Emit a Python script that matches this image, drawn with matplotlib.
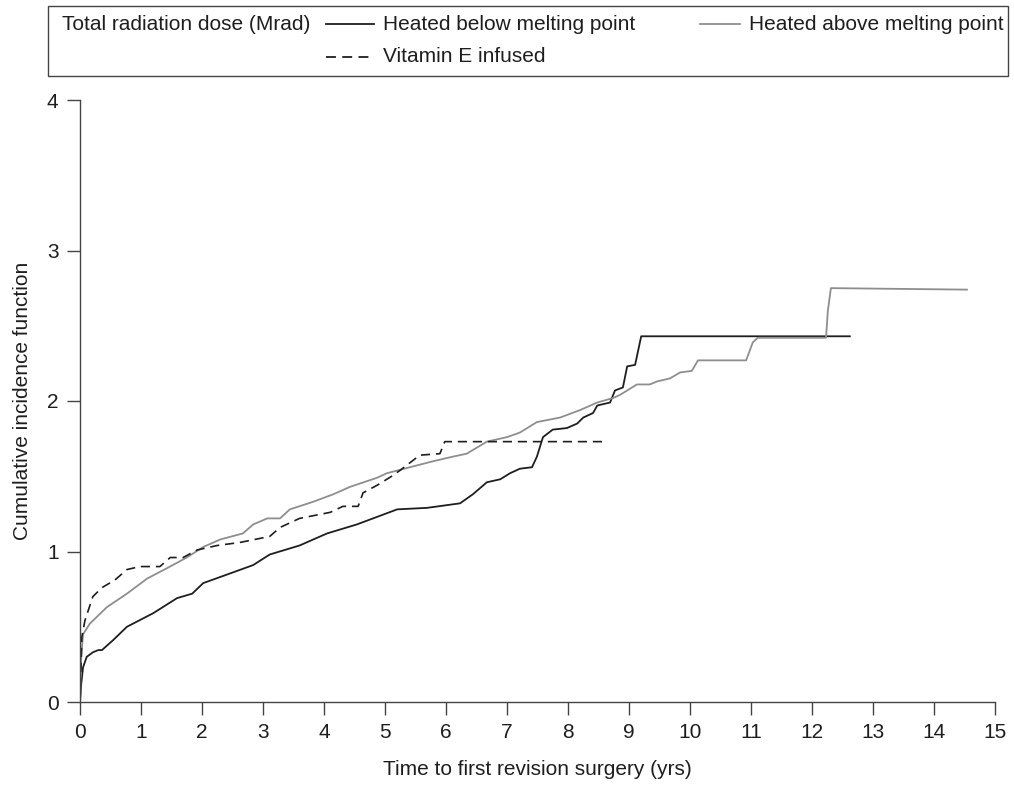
import matplotlib
matplotlib.use("Agg")
import matplotlib.pyplot as plt
from matplotlib.lines import Line2D
from matplotlib.patches import Rectangle

plt.rcParams['font.family'] = ['Liberation Sans', 'DejaVu Sans']

# cumulative incidence curves, read per group
below_x = [0, 0.02, 0.05, 0.11, 0.21, 0.3, 0.36, 0.54, 0.77, 1.2, 1.59, 1.84, 2.02, 2.5, 2.84,
           3.11, 3.6, 4.05, 4.54, 5.2, 5.69, 6.23, 6.44, 6.67, 6.89, 7.05, 7.21, 7.41, 7.49,
           7.59, 7.75, 7.98, 8.15, 8.25, 8.41, 8.48, 8.69, 8.77, 8.9, 8.97, 9.1, 9.2, 12.62]
below_y = [0, 0.12, 0.23, 0.30, 0.33, 0.345, 0.345, 0.41, 0.5, 0.59, 0.69, 0.72, 0.79, 0.86, 0.91,
           0.98, 1.04, 1.12, 1.18, 1.28, 1.29, 1.32, 1.38, 1.46, 1.48, 1.52, 1.55, 1.56, 1.63,
           1.76, 1.81, 1.82, 1.85, 1.89, 1.92, 1.97, 1.99, 2.07, 2.09, 2.23, 2.24, 2.43, 2.43]

above_x = [0, 0.02, 0.05, 0.16, 0.44, 0.77, 1.1, 1.43, 1.75, 2.02, 2.3, 2.67, 2.84, 3.07, 3.28,
           3.44, 3.82, 4.15, 4.43, 4.87, 5.03, 5.41, 5.79, 6.11, 6.34, 6.67, 7.0, 7.21, 7.49,
           7.87, 8.2, 8.48, 8.74, 8.85, 9.13, 9.34, 9.46, 9.67, 9.84, 10.03, 10.13, 10.92,
           11.03, 11.11, 12.23, 12.26, 12.31, 14.54]
above_y = [0, 0.3, 0.45, 0.52, 0.63, 0.72, 0.82, 0.89, 0.96, 1.03, 1.08, 1.12, 1.18, 1.22, 1.22,
           1.28, 1.33, 1.38, 1.43, 1.49, 1.52, 1.56, 1.60, 1.63, 1.65, 1.73, 1.76, 1.79, 1.86,
           1.89, 1.94, 1.99, 2.02, 2.04, 2.11, 2.11, 2.13, 2.15, 2.19, 2.20, 2.27, 2.27,
           2.39, 2.42, 2.42, 2.6, 2.75, 2.74]

vite_x = [0, 0.03, 0.08, 0.21, 0.36, 0.57, 0.77, 0.98, 1.31, 1.48, 1.69, 1.92, 2.25, 2.62, 3.11,
          3.28, 3.6, 4.1, 4.31, 4.56, 4.64, 4.87, 5.11, 5.25, 5.41, 5.57, 5.9, 5.98, 8.64]
vite_y = [0, 0.43, 0.54, 0.70, 0.76, 0.81, 0.88, 0.90, 0.90, 0.96, 0.96, 1.01, 1.04, 1.06, 1.10,
          1.16, 1.22, 1.26, 1.30, 1.30, 1.39, 1.44, 1.50, 1.54, 1.59, 1.64, 1.65, 1.73, 1.73]

labels = ["Heated below melting point", "Heated above melting point", "Vitamin E infused"]
legend_title = "Total radiation dose (Mrad)"
x_ticks = list(range(0, 16))
y_ticks = [0, 1, 2, 3, 4]

W, H = 1014, 785
fig = plt.figure(figsize=(W / 100, H / 100), dpi=100)
ax = fig.add_axes([80 / W, 1 - 702 / H, 915 / W, 602 / H])

black = "#1e1e1e"
grey = "#8e8e8e"
dash = (5.5, 3.5)
ax.plot(below_x, below_y, color=black, lw=1.3)
ax.plot(above_x, above_y, color=grey, lw=1.3)
ax.plot(vite_x, vite_y, color=black, lw=1.2, dashes=dash)

ax.set_xlim(0, 15)
ax.set_ylim(0, 4)
ax.set_xticks(x_ticks)
ax.set_yticks(y_ticks)
for s in ["top", "right"]:
    ax.spines[s].set_visible(False)
for s in ["left", "bottom"]:
    ax.spines[s].set_linewidth(1.0)
    ax.spines[s].set_color("#444444")
ax.tick_params(length=9.4, width=1.0, color="#444444", labelsize=15, pad=6,
               labelcolor="#1e1e1e")
ax.set_xlabel("Time to first revision surgery (yrs)", fontsize=15, labelpad=13,
              color="#1e1e1e")
ax.set_ylabel("Cumulative incidence function", fontsize=15, labelpad=11,
              color="#1e1e1e")


def fx(px):
    return px / W


def fy(py):
    return 1 - py / H


# legend box across the top
fig.add_artist(Rectangle((fx(48), fy(76)), 960 / W, 70 / H, transform=fig.transFigure,
                         fill=False, edgecolor="#444444", lw=1.0))
row1, row2 = 24, 57
fig.text(fx(62), fy(row1), legend_title, fontsize=15, va="center", color="#1e1e1e")
entries = [(326, 374, row1, black, None, labels[0]),
           (326, 374, row2, black, dash, labels[2]),
           (700, 740, row1, grey, None, labels[1])]
for x0, x1, row, col, ds, lab in entries:
    ln = Line2D([fx(x0), fx(x1)], [fy(row), fy(row)], transform=fig.transFigure,
                color=col, lw=1.3)
    if ds:
        ln.set_dashes(ds)
    fig.add_artist(ln)
    fig.text(fx(x1 + 9), fy(row), lab, fontsize=15, va="center", color="#1e1e1e")

fig.savefig("out.png", dpi=100)
